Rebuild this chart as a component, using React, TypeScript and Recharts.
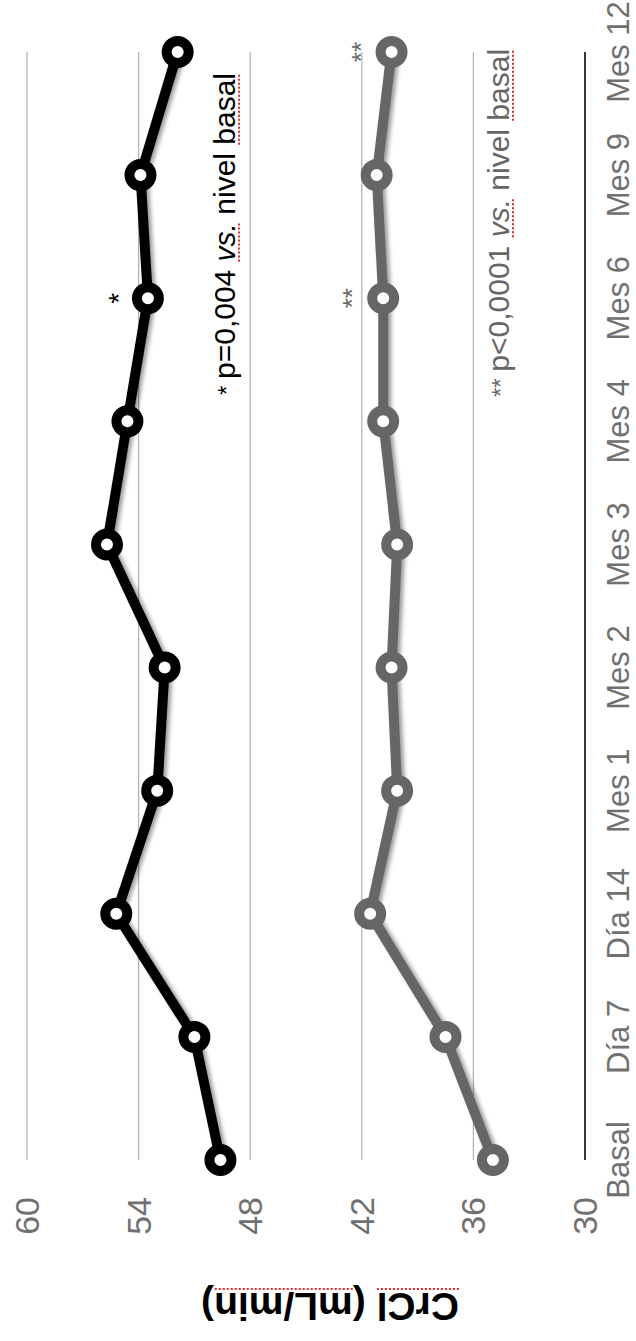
import { CartesianGrid, LabelList, Line, LineChart, XAxis, YAxis } from 'recharts';

const categories = ['Basal', 'Día 7', 'Día 14', 'Mes 1', 'Mes 2', 'Mes 3', 'Mes 4', 'Mes 6', 'Mes 9', 'Mes 12'];
const blackValues = [49.6, 51.0, 55.2, 53.0, 52.6, 55.7, 54.6, 53.5, 53.9, 51.9];
const grayValues = [34.95, 37.5, 41.55, 40.1, 40.4, 40.1, 40.85, 40.85, 41.2, 40.4];
// significance marks drawn above the points
const blackMarks = ['', '', '', '', '', '', '', '*', '', ''];
const grayMarks = ['', '', '', '', '', '', '', '**', '', '**'];
const yTicks = [30, 36, 42, 48, 54, 60];

const data = categories.map((name, i) => ({
  name,
  black: blackValues[i],
  gray: grayValues[i],
  bm: blackMarks[i],
  gm: grayMarks[i],
}));

const FONT_NAME = 'Liberation Sans';
const FONT = `'${FONT_NAME}', Arial, sans-serif`;
const GRAY = '#666666';
const TICK = '#707070';
const SPELL = '#e8282b';

// chart is laid out normally, then the whole thing is turned 90° counter-clockwise
const W = 1341;
const H = 636;

interface Piece {
  text: string;
  size: number;
  italic?: boolean;
  bold?: boolean;
  // red dotted "spell check" underline seen in the source
  mark?: boolean;
}

let measureCtx: CanvasRenderingContext2D | null = null;
function measure(p: Piece) {
  if (!measureCtx) measureCtx = document.createElement('canvas').getContext('2d');
  if (!measureCtx) return p.text.length * p.size * 0.5;
  measureCtx.font = `${p.italic ? 'italic ' : ''}${p.bold ? 'bold ' : ''}${p.size}px '${FONT_NAME}'`;
  return measureCtx.measureText(p.text).width;
}

// lays pieces out left to right from x, baseline y; dotted red line under marked ones
function Run({ pieces, x, y, fill, anchor = 'start' }: { pieces: Piece[]; x: number; y: number; fill: string; anchor?: 'start' | 'middle' }) {
  const widths = pieces.map(measure);
  const total = widths.reduce((a, b) => a + b, 0);
  let cx = anchor === 'middle' ? x - total / 2 : x;
  return (
    <g>
      {pieces.map((p, i) => {
        const left = cx;
        cx += widths[i];
        return (
          <g key={i}>
            <text
              x={left}
              y={y}
              fontSize={p.size}
              fontStyle={p.italic ? 'italic' : undefined}
              fontWeight={p.bold ? 'bold' : undefined}
              fill={fill}
              fontFamily={FONT}
              style={{ whiteSpace: 'pre' }}
            >
              {p.text}
            </text>
            {p.mark && (
              <line
                x1={left}
                x2={left + widths[i]}
                y1={y + 4}
                y2={y + 4}
                stroke={SPELL}
                strokeWidth={2}
                strokeDasharray="2 2"
              />
            )}
          </g>
        );
      })}
    </g>
  );
}

const titlePieces: Piece[] = [
  { text: 'CrCl', size: 39, bold: true, mark: true },
  { text: ' (', size: 39, bold: true },
  { text: 'mL/min', size: 39, bold: true, mark: true },
  { text: ')', size: 39, bold: true },
];

const blackNote: Piece[] = [
  { text: '* ', size: 24 },
  { text: 'p=0,004 ', size: 30 },
  { text: 'vs.', size: 30, italic: true, mark: true },
  { text: ' nivel ', size: 30 },
  { text: 'basal', size: 30, mark: true },
];

const grayNote: Piece[] = [
  { text: '** ', size: 24 },
  { text: 'p<0,0001 ', size: 30 },
  { text: 'vs.', size: 30, italic: true, mark: true },
  { text: ' nivel ', size: 30 },
  { text: 'basal', size: 30, mark: true },
];

function AxisTitle() {
  return (
    <g transform="rotate(-90, 34, 330)">
      <Run pieces={titlePieces} x={34} y={344} fill="#000" anchor="middle" />
    </g>
  );
}

function Notes() {
  return (
    <svg width={W} height={H} style={{ position: 'absolute', left: 0, top: 0, pointerEvents: 'none' }}>
      <Run pieces={blackNote} x={946} y={235} fill="#000" />
      <Run pieces={grayNote} x={944} y={509} fill={GRAY} />
    </svg>
  );
}

export default function App() {
  return (
    <div style={{ position: 'absolute', left: 0, top: 0, width: H, height: W, overflow: 'hidden', background: '#fff' }}>
      <style>{`
        .crcl text { font-family: ${FONT}; }
        .shadowed { filter: drop-shadow(-1px 3px 2px rgba(0,0,0,0.4)); }
      `}</style>
      <div
        className="crcl"
        style={{
          position: 'absolute',
          left: 0,
          top: W,
          width: W,
          height: H,
          transform: 'rotate(-90deg)',
          transformOrigin: '0 0',
        }}
      >
        <LineChart width={W} height={H} data={data} margin={{ top: 27, right: 52, bottom: 11, left: 61 }}>
          <CartesianGrid vertical={false} stroke="#b5b5b5" strokeWidth={1.3} />
          <XAxis
            dataKey="name"
            height={40}
            interval={0}
            padding={{ left: 0, right: 0 }}
            axisLine={{ stroke: '#111', strokeWidth: 1.6 }}
            tickLine={false}
            tickMargin={16}
            tick={{ fill: TICK, fontSize: 31 }}
          />
          <YAxis
            domain={[30, 60]}
            ticks={yTicks}
            width={120}
            axisLine={false}
            tickLine={false}
            tickMargin={31}
            tick={{ fill: TICK, fontSize: 34 }}
            label={<AxisTitle />}
          />
          <Line
            dataKey="black"
            stroke="#000"
            strokeWidth={10}
            dot={{ r: 11, fill: '#fff', stroke: '#000', strokeWidth: 10 }}
            className="shadowed"
            isAnimationActive={false}
          >
            <LabelList dataKey="bm" position="top" offset={20} fill="#000" fontSize={28} />
          </Line>
          <Line
            dataKey="gray"
            stroke={GRAY}
            strokeWidth={10}
            dot={{ r: 11, fill: '#fff', stroke: GRAY, strokeWidth: 10 }}
            className="shadowed"
            isAnimationActive={false}
          >
            <LabelList dataKey="gm" position="top" offset={22} fill={GRAY} fontSize={26} />
          </Line>
        </LineChart>
        <Notes />
      </div>
    </div>
  );
}
